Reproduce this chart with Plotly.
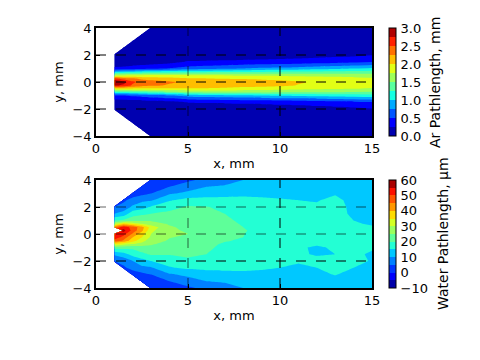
import plotly.graph_objects as go

n = None
x_vals = [1, 1.5, 2, 2.5, 3, 4, 5, 6, 7, 8, 9, 10, 11, 12, 13, 14, 15]
y_vals = [-4, -3.5, -3, -2.5, -2, -1.5, -1, -0.75, -0.5, -0.25, 0, 0.25, 0.5, 0.75, 1, 1.5, 2, 2.5, 3, 3.5, 4]

ar_rows = [
    [n, n, n, n, .03, .03, .03, .03, .03, .03, .03, .03, .03, .03, .03, .03, .03],
    [n, n, n, .03, .03, .03, .04, .04, .04, .04, .05, .05, .05, .05, .05, .06, .06],
    [n, n, .03, .04, .04, .04, .05, .05, .06, .06, .07, .07, .08, .08, .08, .09, .09],
    [n, .04, .04, .05, .05, .05, .06, .07, .08, .08, .09, .09, .1, .11, .12, .13, .14],
    [.05, .05, .06, .06, .07, .07, .08, .09, .1, .11, .12, .13, .14, .16, .18, .2, .23],
    [.09, .1, .11, .12, .13, .16, .26, .27, .28, .29, .3, .32, .34, .37, .4, .44, .48],
    [.5, .5, .55, .6, .65, .75, .85, .9, .93, .96, 1.0, 1.03, 1.05, 1.08, 1.1, 1.12, 1.14],
    [1.2, 1.2, 1.25, 1.3, 1.35, 1.45, 1.55, 1.58, 1.58, 1.55, 1.55, 1.5, 1.5, 1.5, 1.5, 1.48, 1.48],
    [1.95, 1.95, 1.95, 1.95, 1.95, 1.95, 1.97, 1.97, 1.95, 1.9, 1.88, 1.85, 1.82, 1.8, 1.78, 1.76, 1.72],
    [2.8, 2.7, 2.45, 2.35, 2.3, 2.22, 2.18, 2.15, 2.12, 2.1, 2.08, 2.05, 1.99, 1.95, 1.92, 1.9, 1.86],
    [3.0, 2.85, 2.55, 2.42, 2.35, 2.28, 2.22, 2.18, 2.15, 2.12, 2.09, 2.06, 2.02, 1.98, 1.96, 1.94, 1.9],
    [2.6, 2.4, 2.3, 2.2, 2.15, 2.1, 2.03, 2.02, 2.0, 1.98, 1.96, 1.95, 1.93, 1.9, 1.87, 1.84, 1.8],
    [1.7, 1.72, 1.75, 1.75, 1.78, 1.78, 1.76, 1.75, 1.74, 1.72, 1.71, 1.7, 1.68, 1.66, 1.64, 1.62, 1.6],
    [1.0, 1.02, 1.05, 1.08, 1.1, 1.15, 1.18, 1.2, 1.22, 1.24, 1.25, 1.27, 1.29, 1.3, 1.32, 1.34, 1.36],
    [.3, .32, .36, .4, .45, .52, .6, .65, .7, .75, .8, .82, .85, .9, .94, 1.0, 1.05],
    [.08, .09, .1, .11, .12, .16, .27, .28, .29, .3, .31, .33, .35, .38, .41, .44, .48],
    [.05, .05, .06, .06, .07, .07, .08, .09, .1, .11, .12, .13, .14, .16, .18, .2, .24],
    [n, .04, .04, .05, .05, .05, .06, .07, .08, .08, .09, .09, .1, .11, .12, .13, .14],
    [n, n, .03, .04, .04, .04, .05, .05, .06, .06, .07, .07, .08, .08, .08, .09, .09],
    [n, n, n, .03, .03, .03, .04, .04, .04, .04, .05, .05, .05, .05, .05, .06, .06],
    [n, n, n, n, .03, .03, .03, .03, .03, .03, .03, .03, .03, .03, .03, .03, .03],
]

water_rows = [
    [n, n, n, n, 1, 1.5, 4, 6.5, 8, 10, 10.8, 11.5, 12, 12, 12, 12, 12],
    [n, n, n, 1, 3, 5, 8, 10, 10.6, 11, 12, 12.5, 12.5, 12.5, 12.7, 12.3, 12],
    [n, n, 2, 3.5, 5, 9.5, 11, 12.5, 13.5, 14, 13.8, 13.5, 13, 13.5, 15.3, 13, 12.5],
    [n, 4, 7, 9, 9.5, 14.5, 16, 16.5, 16.2, 16, 15.6, 15, 14.5, 15, 16.5, 15, 14],
    [5, 7, 10, 13, 15, 17.5, 19, 18, 17, 16.5, 16, 15.7, 15.3, 15.6, 16.2, 15.8, 14.8],
    [11, 13, 17, 19, 20.7, 20.3, 21, 20, 18, 17, 16.5, 15.8, 15.3, 14.8, 15, 15.3, 14.8],
    [22, 22, 21, 22.5, 24, 23, 22, 20.8, 19, 18, 17, 16, 15.2, 14.8, 15.2, 15.5, 15.2],
    [35, 32, 30, 28, 25.5, 23.5, 23, 21, 19.5, 18.5, 17.5, 16.5, 15.5, 15.2, 15.6, 15.8, 15.5],
    [48, 44, 37, 32, 27, 24.5, 23.5, 22, 20.3, 19.5, 18, 17, 16.5, 16, 16, 16, 15.5],
    [53, 48, 40, 35, 29, 25.2, 24.3, 22.5, 21, 20, 18.5, 17.5, 17, 16.5, 16.5, 16, 15.6],
    [55, 52, 44, 37, 30, 25.5, 25, 23, 21.5, 20.1, 19, 18, 17.5, 17, 16.5, 16, 15.5],
    [n, 57, 48, 41, 31, 26, 24.3, 23, 21.5, 20.3, 19, 18, 17.5, 17, 16.5, 15.8, 15.4],
    [45, 53, 48, 42, 33, 25.5, 24, 22.5, 21.2, 20, 18.5, 18, 17.5, 17, 16.5, 15.5, 15.2],
    [30, 38, 34, 30, 27, 24.5, 23.5, 22.5, 21.5, 19.5, 18.5, 17.8, 17.3, 16.8, 16.5, 15.2, 14.8],
    [20, 21, 23, 24, 24.5, 23.5, 23, 22, 21, 19, 18, 17.5, 17, 16.5, 16.5, 15, 14.5],
    [10, 12, 18, 19, 20, 21, 22, 21.5, 20, 18, 17.5, 17, 16.5, 16, 16, 14.5, 14],
    [5, 7, 11, 13, 15.5, 18.5, 20.5, 20.2, 19, 17.5, 17, 16.8, 16, 15.7, 16.5, 14, 13.5],
    [n, 4, 7, 9, 9.5, 14.5, 17, 17, 16.5, 16.3, 16, 15.5, 15, 14.7, 16.2, 13.5, 13],
    [n, n, 2, 3.5, 5, 9.5, 11, 12.5, 13.5, 14, 13.8, 13.5, 13.5, 13.5, 14.6, 12.5, 12.2],
    [n, n, n, 1, 3, 5, 8, 10, 10.6, 11, 12, 12.5, 12.5, 12.5, 13, 12.5, 12],
    [n, n, n, n, 1, 1.5, 4, 6.5, 8, 10, 10.8, 11.5, 12, 12, 12, 12, 12],
]

x_ticks = [0, 5, 10, 15]
y_ticks = [-4, -2, 0, 2, 4]
ar_ticks = [0, 0.5, 1, 1.5, 2, 2.5, 3]
ar_labels = ["0.0", "0.5", "1.0", "1.5", "2.0", "2.5", "3.0"]
water_ticks = [-10, 0, 10, 20, 30, 40, 50, 60]

W, H, PAD = 472, 352, 8


def fx(px):
    return (px - PAD) / W


def fy(px):
    return 1 - (px - PAD) / H


def seg(t, pts):
    for (a, va), (b, vb) in zip(pts, pts[1:]):
        if t <= b:
            return va + (vb - va) * (t - a) / (b - a)
    return pts[-1][1]


JET_R = [(0, 0), (.35, 0), (.66, 1), (.89, 1), (1, .5)]
JET_G = [(0, 0), (.125, 0), (.375, 1), (.64, 1), (.91, 0), (1, 0)]
JET_B = [(0, .5), (.11, 1), (.34, 1), (.65, 0), (1, 0)]


def jet(t):
    return "rgb({},{},{})".format(*(int(round(255 * seg(t, p))) for p in (JET_R, JET_G, JET_B)))


def fill_scale(nb):
    # Plotly evaluates the fill of band k at position (k + 1) / nb
    out = [[0, jet(0.5 / nb)]]
    for j in range(1, nb + 1):
        out.append([j / nb, jet((j - 0.5) / nb)])
    return out


def bar_scale(nb):
    out = []
    for k in range(nb):
        c = jet((k + 0.5) / nb)
        out.append([k / nb, c])
        out.append([(k + 1) / nb, c])
    return out


FONT = "DejaVu Sans"
SIZE = 13
fig = go.Figure()


def add(z, start, end, size, nb, xa, ya, cb_y, ticks, labels):
    fig.add_trace(go.Contour(
        x=x_vals, y=y_vals, z=z, xaxis=xa, yaxis=ya, showscale=False,
        autocontour=False, connectgaps=False,
        contours=dict(start=start, end=end - size, size=size, coloring="fill", showlines=False),
        line=dict(width=0, smoothing=0),
        colorscale=fill_scale(nb), hoverinfo="skip",
    ))
    fig.add_trace(go.Scatter(
        x=[None], y=[None], mode="markers", xaxis=xa, yaxis=ya, hoverinfo="skip",
        marker=dict(
            color=[start], cmin=start, cmax=end, colorscale=bar_scale(nb), showscale=True,
            colorbar=dict(
                x=fx(389), xanchor="left", xpad=0, thickness=7, thicknessmode="pixels",
                y=cb_y, yanchor="middle", ypad=0, len=108 / H, lenmode="fraction",
                outlinewidth=1, outlinecolor="black", ticks="outside", ticklen=2,
                tickcolor="rgba(0,0,0,0)", tickvals=ticks, ticktext=labels,
                tickfont=dict(family=FONT, size=SIZE, color="black"),
            ),
        ),
    ))


add(ar_rows, 0, 3, 0.25, 12, "x", "y", fy(82), ar_ticks, ar_labels)
add(water_rows, -10, 60, 5, 14, "x2", "y2", fy(234), water_ticks,
    [str(v).replace("-", "\u2212") for v in water_ticks])

ax = dict(range=[0, 15], tickvals=x_ticks, ticks="inside", ticklen=4, tickcolor="black", showgrid=False,
          zeroline=False, showline=True, linecolor="black", linewidth=1.5, mirror=True,
          tickfont=dict(family=FONT, size=SIZE, color="black"),
          title=dict(text="x, mm", standoff=4, font=dict(family=FONT, size=SIZE, color="black")))
ay = dict(range=[-4, 4], tickvals=y_ticks, ticks="inside", ticklen=4, tickcolor="black", showgrid=False,
          zeroline=False, showline=True, linecolor="black", linewidth=1.5, mirror=True,
          tickfont=dict(family=FONT, size=SIZE, color="black"),
          title=dict(text="y, mm", standoff=6, font=dict(family=FONT, size=SIZE, color="black")))

shapes = []
for xr, yr in (("x", "y"), ("x2", "y2")):
    for v in x_ticks[1:-1]:
        op = 0.6 if v == 5 else 1
        shapes.append(dict(type="line", xref=xr, yref=yr, x0=v, x1=v, y0=y_ticks[0], y1=y_ticks[-1], opacity=op,
                           line=dict(color="black", width=1, dash="10px,10px"), layer="above"))
    for v in y_ticks[1:-1]:
        op = 0.6 if (yr == "y2" and v >= 0) else 1
        shapes.append(dict(type="line", xref=xr, yref=yr, x0=x_ticks[0], x1=x_ticks[-1], y0=v, y1=v, opacity=op,
                           line=dict(color="black", width=1, dash="10px,10px"), layer="above"))

annotations = [
    dict(text=t, xref="paper", yref="paper", x=fx(px), y=fy(py), xanchor="center", yanchor="middle",
         textangle=-90, showarrow=False, font=dict(family=FONT, size=14, color="black"))
    for t, px, py in (("Ar Pathlength, mm", 435, 83), ("Water Pathlength, \u00b5m", 443, 234))
]

fig.update_layout(
    width=W, height=H, margin=dict(l=0, r=0, t=0, b=0, autoexpand=False), showlegend=False,
    paper_bgcolor="white", plot_bgcolor="white", shapes=shapes, annotations=annotations,
    xaxis=dict(ax, domain=[fx(96), fx(372)], anchor="y"),
    yaxis=dict(ay, domain=[fy(136), fy(28)], anchor="x"),
    xaxis2=dict(ax, domain=[fx(96), fx(372)], anchor="y2"),
    yaxis2=dict(ay, domain=[fy(288), fy(180)], anchor="x2"),
)
fig.write_html("out.html", config=dict(displayModeBar=False))
